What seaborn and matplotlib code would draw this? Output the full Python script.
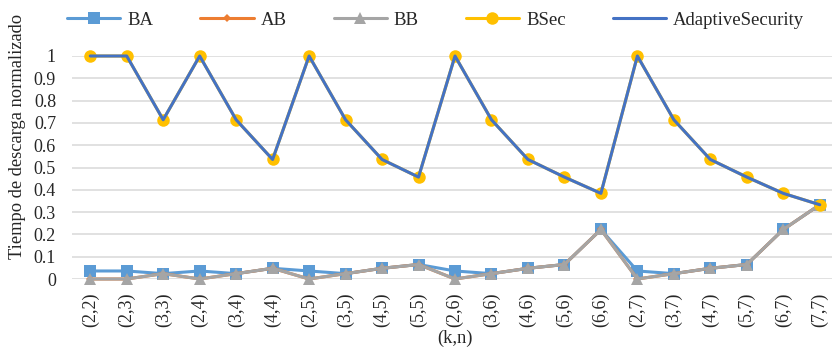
import numpy as np
import pandas as pd
import matplotlib
matplotlib.use("Agg")
import matplotlib.pyplot as plt
import seaborn as sns

categories = ["(2,2)", "(2,3)", "(3,3)", "(2,4)", "(3,4)", "(4,4)", "(2,5)", "(3,5)",
              "(4,5)", "(5,5)", "(2,6)", "(3,6)", "(4,6)", "(5,6)", "(6,6)", "(2,7)",
              "(3,7)", "(4,7)", "(5,7)", "(6,7)", "(7,7)"]

ba = [0.036, 0.036, 0.024, 0.036, 0.024, 0.048, 0.036, 0.024, 0.048, 0.065, 0.036,
      0.024, 0.048, 0.065, 0.222, 0.036, 0.024, 0.048, 0.065, 0.222, 0.333]
ab = [0.0, 0.0, 0.024, 0.0, 0.024, 0.048, 0.0, 0.024, 0.048, 0.065, 0.0,
      0.024, 0.048, 0.065, 0.222, 0.0, 0.024, 0.048, 0.065, 0.222, 0.333]
bb = [0.0, 0.0, 0.024, 0.0, 0.024, 0.048, 0.0, 0.024, 0.048, 0.065, 0.0,
      0.024, 0.048, 0.065, 0.222, 0.0, 0.024, 0.048, 0.065, 0.222, 0.333]
bsec = [1.0, 1.0, 0.714, 1.0, 0.714, 0.536, 1.0, 0.714, 0.536, 0.457, 1.0,
        0.714, 0.536, 0.457, 0.384, 1.0, 0.714, 0.536, 0.457, 0.384, 0.333]
adaptive = [1.0, 1.0, 0.714, 1.0, 0.714, 0.536, 1.0, 0.714, 0.536, 0.457, 1.0,
            0.714, 0.536, 0.457, 0.384, 1.0, 0.714, 0.536, 0.457, 0.384, 0.333]

yticks = [0, 0.1, 0.2, 0.3, 0.4, 0.5, 0.6, 0.7, 0.8, 0.9, 1]
ytick_labels = ["0", "0.1", "0.2", "0.3", "0.4", "0.5", "0.6", "0.7", "0.8", "0.9", "1"]

sns.set_theme(style="white")
plt.rcParams["font.family"] = ["Liberation Serif", "DejaVu Serif"]

fig = plt.figure(figsize=(8.32, 3.48), dpi=100)
ax = fig.add_axes([72 / 832, 69 / 348, 766 / 832, 223 / 348])

pos = np.arange(len(categories))
series = [
    ("BA", ba, "#5B9BD5", "s", 8),
    ("AB", ab, "#ED7D31", "D", 4),
    ("BB", bb, "#A5A5A5", "^", 9),
    ("BSec", bsec, "#FFC000", "o", 9),
    ("AdaptiveSecurity", adaptive, "#4472C4", None, 0),
]

for name, vals, color, marker, ms in series:
    df = pd.DataFrame({"x": pos, "y": vals})
    kw = dict(marker=marker, markersize=ms, markeredgewidth=0) if marker else {}
    sns.lineplot(data=df, x="x", y="y", ax=ax, color=color, linewidth=2.2,
                 label=name, sort=False, clip_on=False, **kw)

ax.set_xlim(-0.5, len(categories) - 0.5)
ax.set_ylim(0, 1)
ax.set_yticks(yticks)
ax.set_yticklabels(ytick_labels, fontsize=13)
ax.set_xticks(pos)
ax.set_xticklabels(categories, rotation=90, fontsize=13)
ax.tick_params(axis="y", length=0, pad=11.5)
ax.tick_params(axis="x", length=0, pad=10)
ax.yaxis.grid(True, color="#D9D9D9", linewidth=1.1)
ax.set_axisbelow(True)
for s in ax.spines.values():
    s.set_visible(False)

ax.set_xlabel("(k,n)", fontsize=13.3, va="top")
ax.xaxis.set_label_coords(0.5, -51 / 223)
ax.set_ylabel("Tiempo de descarga normalizado", fontsize=13.3)
ax.yaxis.set_label_coords(-46 / 766, 143 / 223)

leg = ax.legend(loc="center left", bbox_to_anchor=(-5 / 766, 1 + 36 / 223), ncol=5,
                frameon=False, fontsize=13.5, handlelength=2.85, columnspacing=2.5,
                handletextpad=0.37, borderaxespad=0, borderpad=0)

fig.savefig("out.png", dpi=100)
